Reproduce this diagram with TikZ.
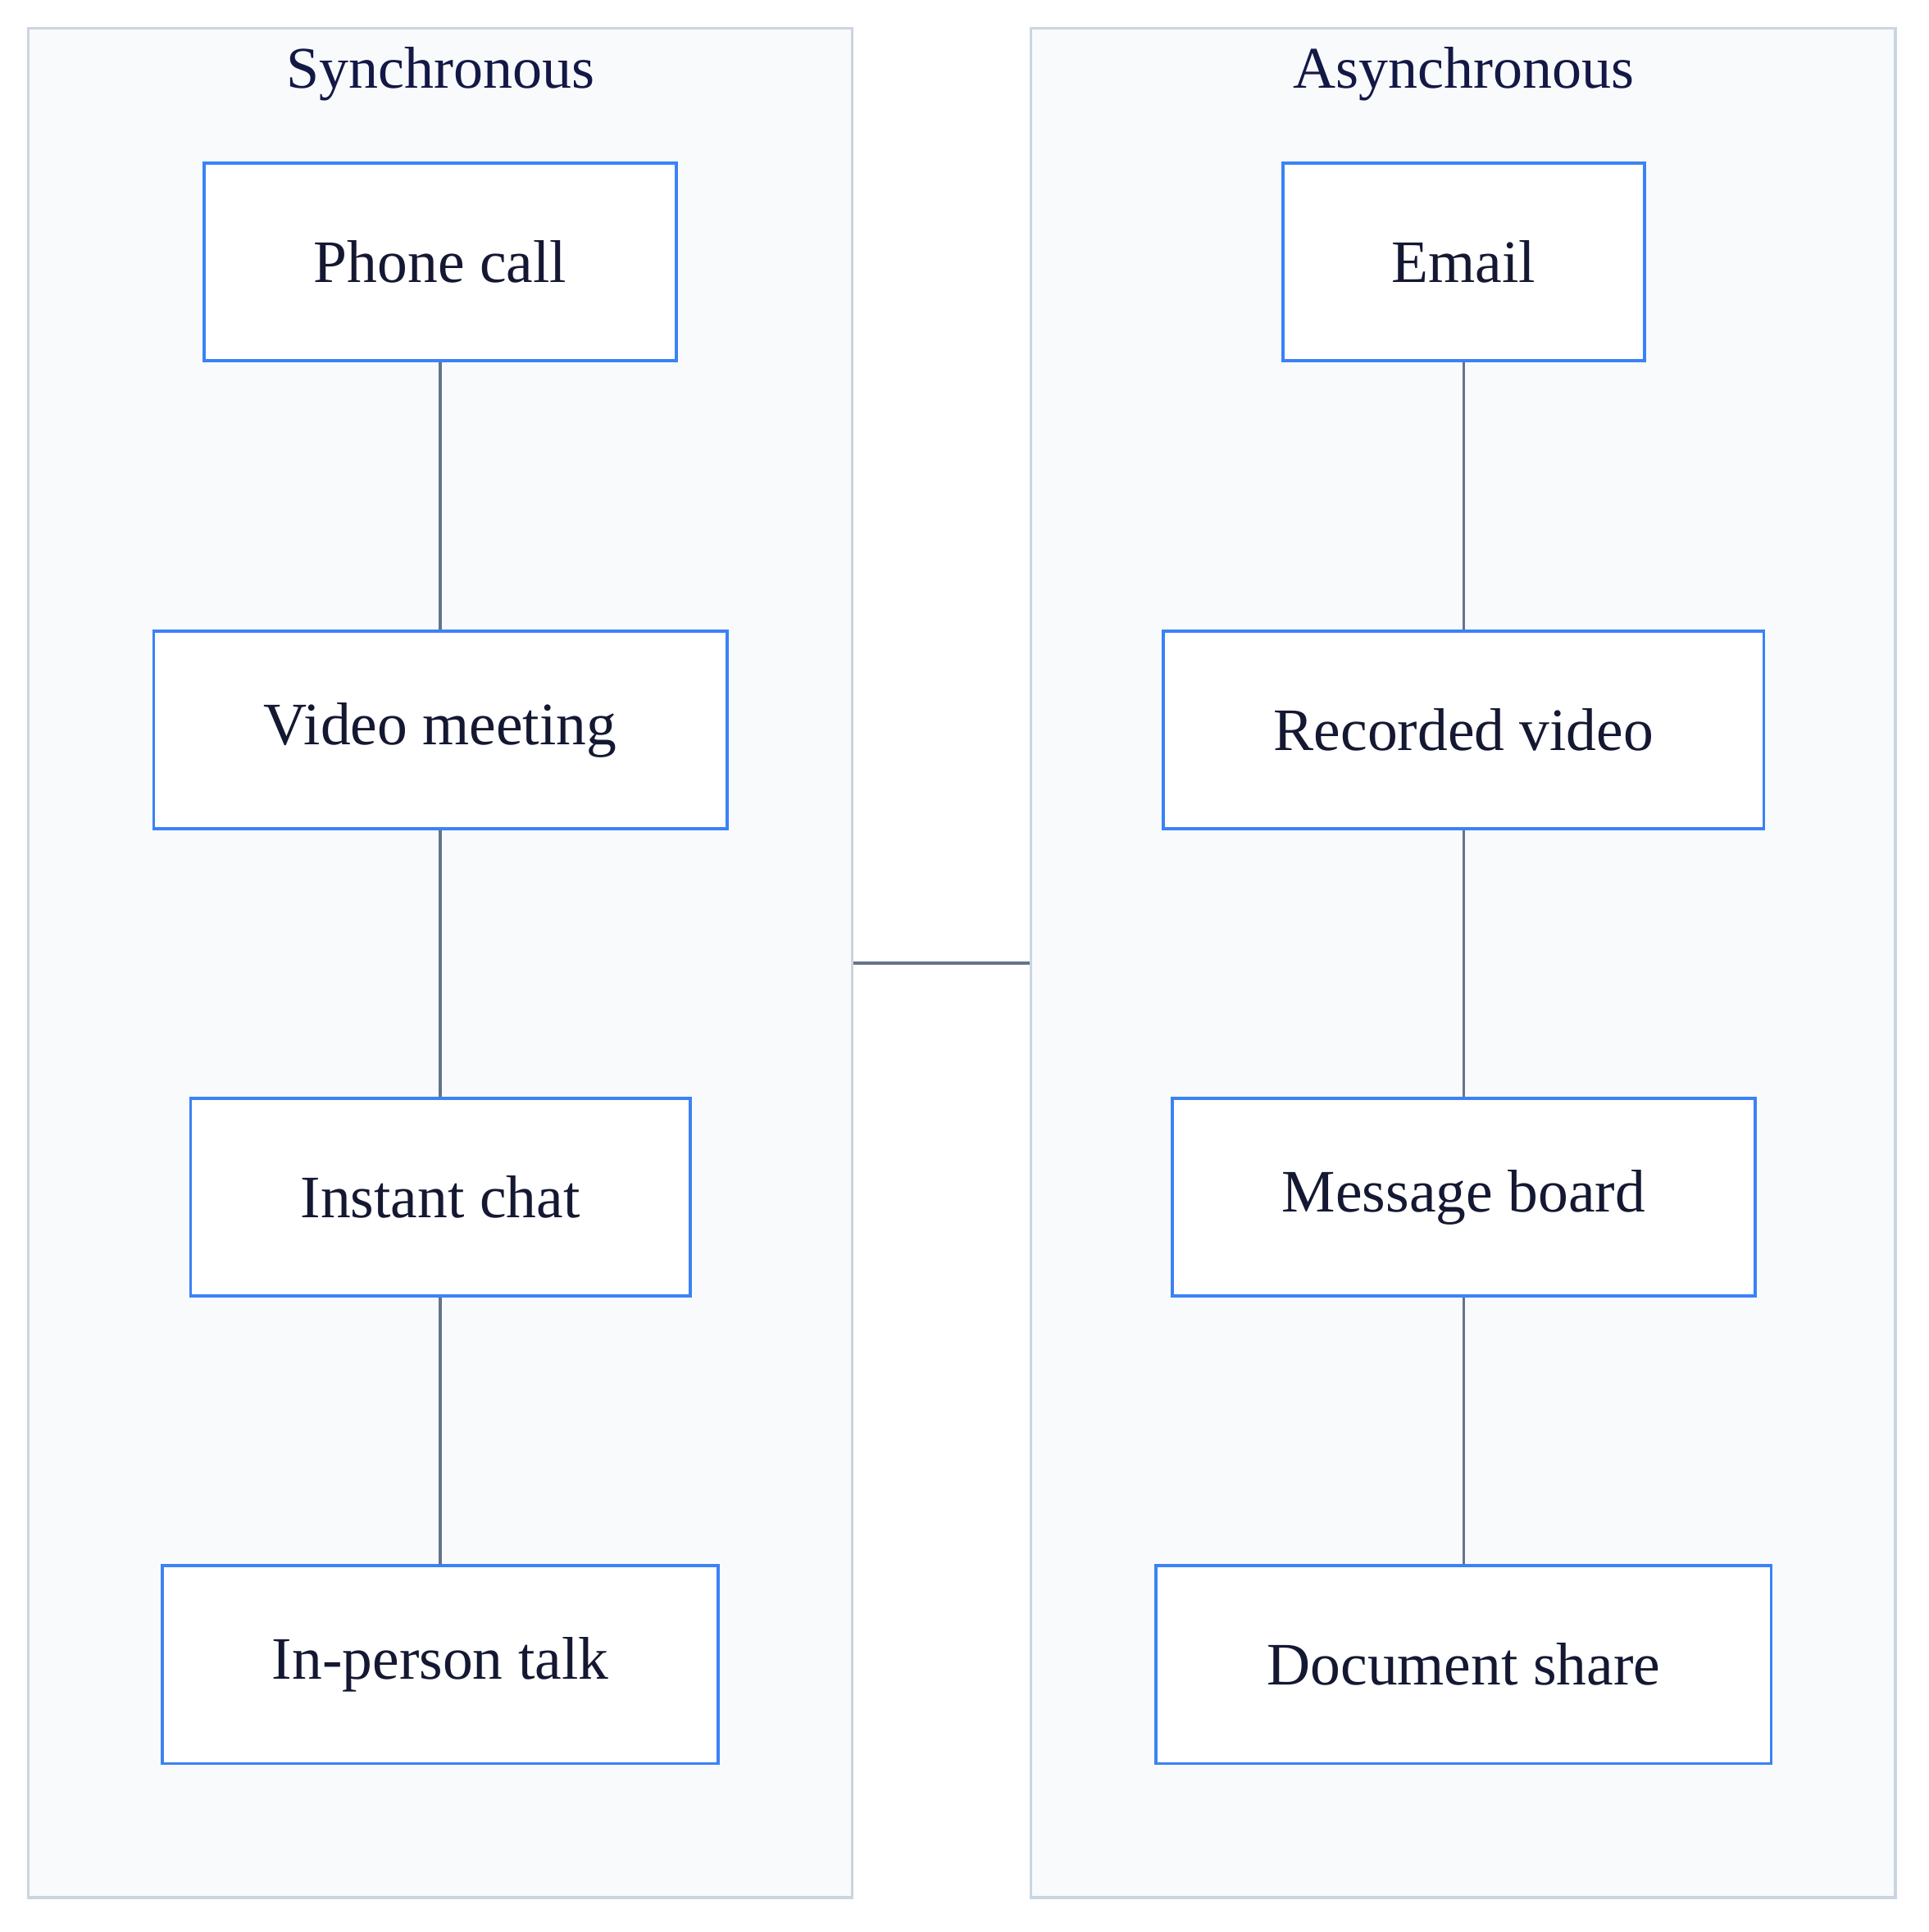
\documentclass[tikz,border=0pt]{standalone}
\usepackage{fontspec}
\setmainfont{Liberation Serif}
\begin{document}
\begin{tikzpicture}[x=1pt,y=-1pt,
  cont/.style={draw={rgb,255:red,203;green,213;blue,225}, fill={rgb,255:red,248;green,250;blue,252}, line width=2.2pt},
  box/.style={draw={rgb,255:red,59;green,130;blue,246}, fill=white, line width=2.5pt, inner sep=0pt, minimum height=161pt, font=\fontsize{49}{58}\selectfont, text={rgb,255:red,20;green,24;blue,50}},
  title/.style={font=\fontsize{48}{56}\selectfont, text={rgb,255:red,20;green,24;blue,70}},
  link/.style={draw={rgb,255:red,100;green,116;blue,139}, line width=2.5pt}]
\useasboundingbox (0,0) rectangle (1568,1571);
\node[cont, minimum width=670pt, minimum height=1520pt, inner sep=0pt] (sync) at (358,783) {};
\node[cont, minimum width=703pt, minimum height=1520pt, inner sep=0pt] (async) at (1189.5,783) {};
\node[title] (ts) at (358,60) {Synchronous};
\node[title] (ta) at (1190,60) {Asynchronous};
\node[box, minimum width=384pt] (p) at (358,213) {Phone call};
\node[box, minimum width=466pt] (v) at (358,593.5) {Video meeting};
\node[box, minimum width=406pt] (i) at (358,973.5) {Instant chat};
\node[box, minimum width=452pt] (t) at (358,1353.5) {In-person talk};
\node[box, minimum width=294pt] (e) at (1190,213) {Email};
\node[box, minimum width=488pt] (r) at (1190,593.5) {Recorded video};
\node[box, minimum width=474pt] (m) at (1190,973.5) {Message board};
\node[box, minimum width=500pt] (d) at (1190,1353.5) {Document share};
\draw[link] (p) -- (v); \draw[link] (v) -- (i); \draw[link] (i) -- (t);
\draw[link] (e) -- (r); \draw[link] (r) -- (m); \draw[link] (m) -- (d);
\draw[link] (sync.east) -- (async.west);
\end{tikzpicture}
\end{document}
